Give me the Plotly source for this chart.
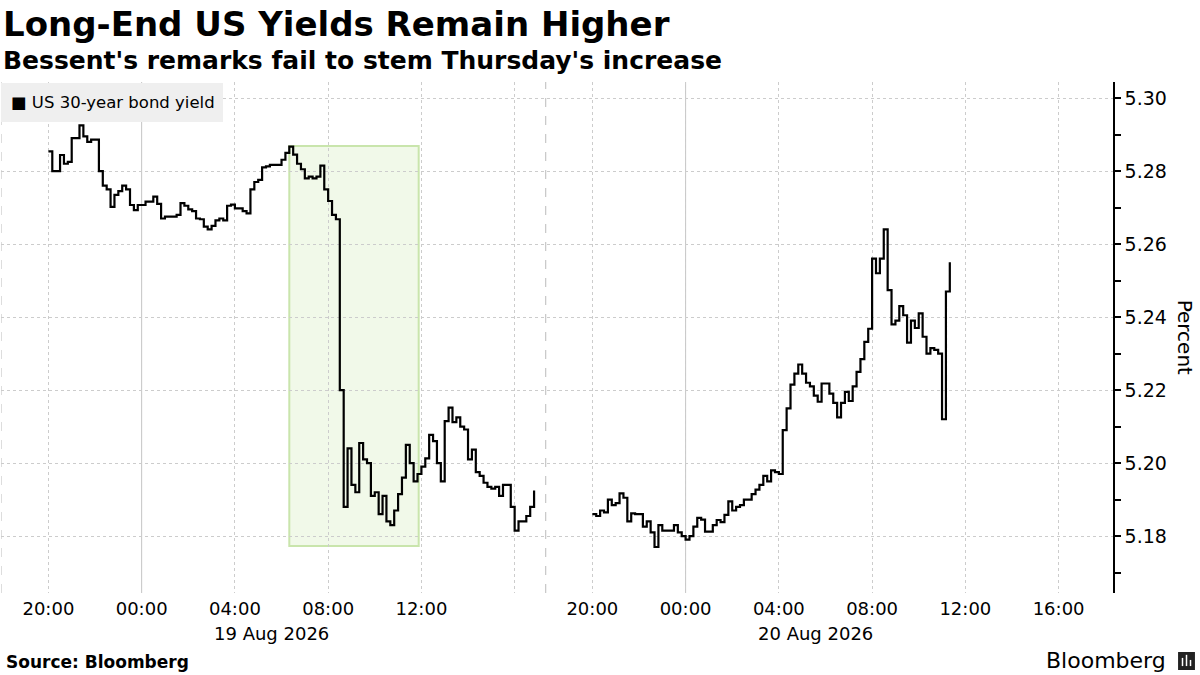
#%%
import pandas as pd
import plotly.graph_objects as go

#%% data: US 30-year yield, 10-minute steps
# session 1: from 20:00 on 18 Aug
yield_s1 = [
    5.2854, 5.2800, 5.2800, 5.2844, 5.2820, 5.2825, 5.2890, 5.2890, 5.2925, 5.2895,
    5.2880, 5.2886, 5.2886, 5.2800, 5.2760, 5.2750, 5.2702, 5.2735, 5.2745, 5.2760,
    5.2750, 5.2707, 5.2693, 5.2707, 5.2707, 5.2716, 5.2716, 5.2730, 5.2710, 5.2670,
    5.2675, 5.2675, 5.2675, 5.2680, 5.2712, 5.2705, 5.2695, 5.2690, 5.2670, 5.2668,
    5.2648, 5.2640, 5.2650, 5.2665, 5.2670, 5.2665, 5.2705, 5.2708, 5.2698, 5.2698,
    5.2690, 5.2684, 5.2750, 5.2770, 5.2776, 5.2810, 5.2813, 5.2817, 5.2817, 5.2817,
    5.2831, 5.2850, 5.2867, 5.2845, 5.2820, 5.2805, 5.2780, 5.2785, 5.2780, 5.2785,
    5.2815, 5.2750, 5.2718, 5.2680, 5.2668, 5.2200, 5.1880, 5.2040, 5.1940, 5.1920,
    5.2055, 5.2010, 5.2000, 5.1910, 5.1920, 5.1860, 5.1910, 5.1840, 5.1830, 5.1870,
    5.1915, 5.1960, 5.2050, 5.2000, 5.1950, 5.1970, 5.1990, 5.2013, 5.2077, 5.2060,
    5.2000, 5.1950, 5.2115, 5.2152, 5.2112, 5.2125, 5.2100, 5.2092, 5.2010, 5.2037,
    5.1975, 5.1965, 5.1946, 5.1935, 5.1930, 5.1935, 5.1910, 5.1940, 5.1940, 5.1880,
    5.1815, 5.1840, 5.1840, 5.1855, 5.1880, 5.1925,
]
# session 2: from 20:00 on 19 Aug
yield_s2 = [
    5.1860, 5.1855, 5.1870, 5.1865, 5.1900, 5.1885, 5.1890, 5.1917, 5.1905, 5.1840,
    5.1862, 5.1860, 5.1860, 5.1826, 5.1840, 5.1810, 5.1770, 5.1830, 5.1815, 5.1815,
    5.1815, 5.1830, 5.1810, 5.1800, 5.1790, 5.1800, 5.1826, 5.1850, 5.1845, 5.1812,
    5.1812, 5.1830, 5.1844, 5.1838, 5.1858, 5.1895, 5.1870, 5.1880, 5.1885, 5.1900,
    5.1900, 5.1915, 5.1927, 5.1940, 5.1965, 5.1950, 5.1980, 5.1975, 5.1970, 5.2090,
    5.2150, 5.2215, 5.2245, 5.2270, 5.2245, 5.2220, 5.2210, 5.2185, 5.2168, 5.2218,
    5.2218, 5.2190, 5.2165, 5.2125, 5.2165, 5.2195, 5.2170, 5.2210, 5.2250, 5.2285,
    5.2332, 5.2368, 5.2560, 5.2520, 5.2560, 5.2640, 5.2474, 5.2380, 5.2390, 5.2430,
    5.2405, 5.2330, 5.2390, 5.2370, 5.2410, 5.2346, 5.2300, 5.2315, 5.2310, 5.2300,
    5.2120, 5.2470, 5.2550,
]
t_s1 = pd.date_range("2026-08-18 20:00", periods=len(yield_s1), freq="10min")
t_s2 = pd.date_range("2026-08-19 20:00", periods=len(yield_s2), freq="10min")

tick_times = [
    "2026-08-18 20:00", "2026-08-19 00:00", "2026-08-19 04:00", "2026-08-19 08:00",
    "2026-08-19 12:00", "2026-08-19 16:00",
    "2026-08-19 20:00", "2026-08-20 00:00", "2026-08-20 04:00", "2026-08-20 08:00",
    "2026-08-20 12:00", "2026-08-20 16:00",
]
tick_text = ["20:00", "00:00", "04:00", "08:00", "12:00", "",
             "20:00", "00:00", "04:00", "08:00", "12:00", "16:00"]
day_labels = ["19 Aug 2026", "20 Aug 2026"]
day_label_at = ["2026-08-19 05:35", "2026-08-20 05:35"]
midnights = ["2026-08-19 00:00", "2026-08-20 00:00"]

# highlight window (Bessent's remarks)
hl_x = ["2026-08-19 06:20", "2026-08-19 11:53"]
hl_y = [5.1773, 5.2869]

x_range = ["2026-08-18 17:58", "2026-08-20 18:20"]
gap = ["2026-08-19 17:20", "2026-08-19 18:00"]

FONT = "DejaVu Sans"

#%% figure
fig = go.Figure()
for t, v in [(t_s1, yield_s1), (t_s2, yield_s2)]:
    fig.add_trace(go.Scatter(
        x=t, y=v, mode="lines", line=dict(color="#000000", width=2.2, shape="hv"),
        showlegend=False, hoverinfo="skip",
    ))

shapes = [
    dict(type="rect", xref="x", yref="y", x0=hl_x[0], x1=hl_x[1], y0=hl_y[0], y1=hl_y[1],
         fillcolor="#f1f9e9", line=dict(color="#c9e5ac", width=2), layer="below"),
    dict(type="line", xref="x", yref="paper", x0=x_range[0], x1=x_range[0], y0=0, y1=1,
         line=dict(color="#bbbbbb", width=1, dash="dash"), layer="below"),
    dict(type="line", xref="x", yref="paper", x0=gap[0], x1=gap[0], y0=0, y1=1,
         line=dict(color="#bbbbbb", width=1, dash="dash"), layer="below"),
    # legend box
    dict(type="rect", xref="paper", yref="paper", x0=0, x1=0.1996, y0=0.9217, y1=0.998,
         fillcolor="#efefef", line=dict(width=0), layer="above"),
    # bloomberg icon
    dict(type="rect", xref="paper", yref="paper", x0=1.0585, x1=1.0737, y0=-0.1507, y1=-0.1155,
         fillcolor="#222222", line=dict(width=0)),
]
for bx, btop in [(1.0625, -0.127), (1.0661, -0.121), (1.0697, -0.131)]:
    shapes.append(dict(type="line", xref="paper", yref="paper", x0=bx, x1=bx,
                       y0=-0.143, y1=btop, line=dict(color="#ffffff", width=1.5)))
for m in midnights:
    shapes.append(dict(type="line", xref="x", yref="paper", x0=m, x1=m, y0=0, y1=1,
                       line=dict(color="#c4c4c4", width=1), layer="below"))

annotations = [
    dict(text="<b>Long-End US Yields Remain Higher</b>", xref="paper", yref="paper",
         x=0.0, y=1.1135, xanchor="left", yanchor="middle", showarrow=False,
         font=dict(family=FONT, size=34, color="#000000")),
    dict(text="<b>Bessent's remarks fail to stem Thursday's increase</b>", xref="paper",
         yref="paper", x=0.0, y=1.043, xanchor="left", yanchor="middle", showarrow=False,
         font=dict(family=FONT, size=25, color="#000000")),
    dict(text="■ US 30-year bond yield", xref="paper", yref="paper", x=0.007, y=0.96,
         xanchor="left", yanchor="middle", showarrow=False,
         font=dict(family=FONT, size=16.5, color="#000000")),
    dict(text="Percent", xref="paper", yref="paper", x=1.0655, y=0.5, textangle=90,
         xanchor="center", yanchor="middle", showarrow=False,
         font=dict(family=FONT, size=20, color="#000000")),
    dict(text="<b>Source: Bloomberg</b>", xref="paper", yref="paper", x=0.003, y=-0.135,
         xanchor="left", yanchor="middle", showarrow=False,
         font=dict(family=FONT, size=17, color="#000000")),
    dict(text="Bloomberg", xref="paper", yref="paper", x=1.0495, y=-0.133,
         xanchor="right", yanchor="middle", showarrow=False,
         font=dict(family=FONT, size=22, color="#000000")),
]
for lab, at in zip(day_labels, day_label_at):
    annotations.append(dict(text=lab, xref="x", yref="paper", x=at, y=-0.080,
                            xanchor="center", yanchor="middle", showarrow=False,
                            font=dict(family=FONT, size=18, color="#000000")))

fig.update_layout(
    width=1200, height=675,
    margin=dict(l=1, r=87, t=82, b=82),
    paper_bgcolor="#ffffff", plot_bgcolor="#ffffff",
    font=dict(family=FONT, color="#000000"),
    shapes=shapes,
    annotations=annotations,
    showlegend=False,
)
fig.update_xaxes(
    type="date", range=x_range, automargin=False,
    rangebreaks=[dict(bounds=gap)],
    tickmode="array", tickvals=tick_times, ticktext=tick_text,
    showgrid=True, gridcolor="#cccccc", griddash="dot", gridwidth=1,
    showline=False, zeroline=False, ticks="", ticklabelstandoff=3,
    tickfont=dict(family=FONT, size=18, color="#000000"),
)
fig.update_yaxes(
    side="right", range=[5.1644, 5.3044], dtick=0.02, tick0=5.18, tickformat=".2f",
    automargin=False,
    showgrid=True, gridcolor="#cccccc", griddash="dot", gridwidth=1,
    showline=True, linecolor="#000000", linewidth=1.5,
    ticks="outside", ticklen=6, tickcolor="#000000", tickwidth=1.5,
    minor=dict(dtick=0.01, ticks="outside", ticklen=6, tickcolor="#000000", showgrid=False),
    zeroline=False,
    tickfont=dict(family=FONT, size=19, color="#000000"),
)

# drop the page's default body margin so the figure sits at the window origin
fig.write_html("out.html", config={"displayModeBar": False},
               post_script="document.body.style.margin='0';")
